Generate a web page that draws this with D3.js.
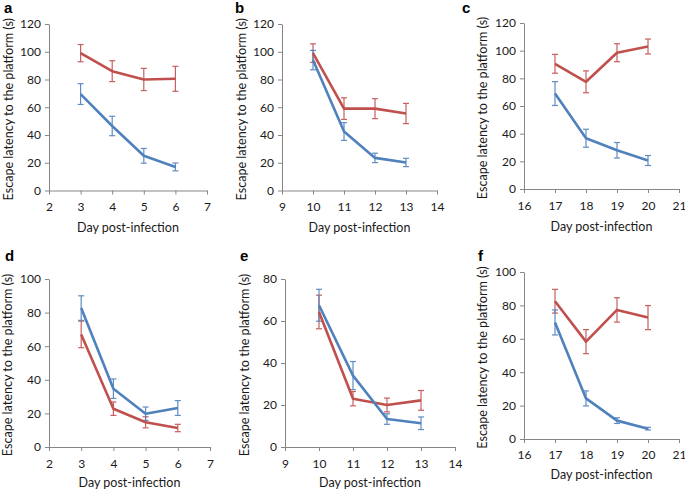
<!DOCTYPE html>
<html><head><meta charset="utf-8">
<script src="https://cdn.jsdelivr.net/npm/d3@7"></script>
<style>
html,body{margin:0;padding:0;background:#fff;}
svg text{font-family:Lato,"Open Sans",sans-serif;}
</style></head>
<body>
<svg id="c" width="685" height="492"></svg>
<script>
// ---- data ----
const daysA = [3, 4, 5, 6];
const redA = [99, 86, 80, 80.5];
const redErrA = [6.2, 7.5, 8, 9];
const blueA = [69.5, 46.5, 25, 17];
const blueErrA = [7.5, 7, 5.3, 2.8];

const daysB = [10, 11, 12, 13];
const redB = [99, 59, 59, 55.5];
const redErrB = [6.7, 7.8, 7.2, 7.3];
const blueB = [94, 42.5, 23.5, 20.2];
const blueErrB = [7, 6.4, 3.4, 3];

const daysC = [17, 18, 19, 20];
const redC = [90.5, 77.5, 98.5, 103];
const redErrC = [6.8, 7.9, 6.5, 5.4];
const blueC = [69, 36.7, 28, 20.6];
const blueErrC = [8.6, 6.5, 5.6, 3.6];

const daysD = [3, 4, 5, 6];
const redD = [67, 22.8, 14.7, 11.3];
const redErrD = [7.9, 4, 3.3, 2.2];
const blueD = [82.7, 34.7, 19.8, 23.2];
const blueErrD = [7.3, 5.8, 4, 4.4];

const daysE = [10, 11, 12, 13];
const redE = [64.3, 23, 20, 22.2];
const redErrE = [8, 3.4, 3.3, 4.7];
const blueE = [67.5, 34, 13.3, 11.3];
const blueErrE = [7.6, 6.7, 2.5, 3];

const daysF = [17, 18, 19, 20];
const redF = [82.5, 58.3, 77.3, 72.7];
const redErrF = [7.1, 7.2, 7.3, 7.2];
const blueF = [69.8, 24.3, 11, 6.2];
const blueErrF = [7.5, 4.5, 1.7, 0.8];

const xTicksA = [2, 3, 4, 5, 6, 7];
const xTicksB = [9, 10, 11, 12, 13, 14];
const xTicksC = [16, 17, 18, 19, 20, 21];
const yTicks120 = [0, 20, 40, 60, 80, 100, 120];
const yTicks100 = [0, 20, 40, 60, 80, 100];
const yTicks80 = [0, 20, 40, 60, 80];

const xTitle = "Day post-infection";
const yTitle = "Escape latency to the platform (s)";

// ---- layout ----
const RED = "#c0504d", BLUE = "#4f81bd", AXIS = "#868686", TXT = "#1a1a1a";
const panels = [
  {L:"a", days:daysA, red:redA, redE:redErrA, blue:blueA, blueE:blueErrA, xt:xTicksA, yt:yTicks120,
   x0:49, x1:207, y0:24, y1:190.5, lx:4, ly:13, ytx:9, xtlY:211, xtY:232},
  {L:"b", days:daysB, red:redB, redE:redErrB, blue:blueB, blueE:blueErrB, xt:xTicksB, yt:yTicks120,
   x0:282, x1:437, y0:24, y1:190.5, lx:235, ly:13, ytx:242, xtlY:211, xtY:232},
  {L:"c", days:daysC, red:redC, redE:redErrC, blue:blueC, blueE:blueErrC, xt:xTicksC, yt:yTicks120,
   x0:524, x1:679, y0:23, y1:189, lx:462, ly:13, ytx:483, xtlY:210, xtY:231},
  {L:"d", days:daysD, red:redD, redE:redErrD, blue:blueD, blueE:blueErrD, xt:xTicksA, yt:yTicks100,
   x0:49, x1:210, y0:279, y1:447, lx:5, ly:261, ytx:8, xtlY:468, xtY:487},
  {L:"e", days:daysE, red:redE, redE:redErrE, blue:blueE, blueE:blueErrE, xt:xTicksB, yt:yTicks80,
   x0:285, x1:455, y0:279, y1:447, lx:240, ly:261, ytx:245, xtlY:468, xtY:487},
  {L:"f", days:daysF, red:redF, redE:redErrF, blue:blueF, blueE:blueErrF, xt:xTicksC, yt:yTicks100,
   x0:524, x1:679, y0:272, y1:439, lx:478, ly:261, ytx:483, xtlY:459, xtY:479}
];

const svg = d3.select("#c");

panels.forEach(p => {
  const g = svg.append("g");
  const x = d3.scaleLinear().domain([p.xt[0], p.xt[p.xt.length-1]]).range([p.x0, p.x1]);
  const y = d3.scaleLinear().domain([p.yt[0], p.yt[p.yt.length-1]]).range([p.y1, p.y0]);

  const ya = g.append("g").attr("transform", `translate(${p.x0},0)`)
    .call(d3.axisLeft(y).tickValues(p.yt).tickFormat(d3.format("d")).tickSize(4).tickPadding(4).tickSizeOuter(0));
  const xa = g.append("g").attr("transform", `translate(0,${p.y1})`)
    .call(d3.axisBottom(x).tickValues(p.xt).tickFormat(d3.format("d")).tickSize(4).tickPadding(6).tickSizeOuter(0));
  [ya, xa].forEach(a => {
    a.select(".domain").attr("stroke", AXIS).attr("stroke-width", 1);
    a.selectAll(".tick line").attr("stroke", AXIS);
    a.selectAll(".tick text").attr("fill", TXT).style("font-size", "12px")
      .style("font-family", "Lato, sans-serif");
  });
  xa.selectAll(".tick text").attr("dy", null).attr("y", p.xtlY - p.y1);

  g.append("text").attr("x", (p.x0 + p.x1) / 2).attr("y", p.xtY)
    .attr("text-anchor", "middle").attr("fill", TXT).style("font-size", "12.5px").text(xTitle);
  g.append("text").attr("transform", `translate(${p.ytx + 4},${(p.y0 + p.y1) / 2 + 2}) rotate(-90)`)
    .attr("text-anchor", "middle").attr("fill", TXT).style("font-size", "12.6px").text(yTitle);
  g.append("text").attr("x", p.lx).attr("y", p.ly).attr("fill", "#000")
    .style("font-family", "Liberation Sans, Arial, sans-serif").style("font-weight", "bold")
    .style("font-size", "15px").text(p.L);

  const line = d3.line().x((d, i) => x(p.days[i])).y(d => y(d));
  const series = [
    {v: p.red, e: p.redE, c: RED},
    {v: p.blue, e: p.blueE, c: BLUE}
  ];
  series.forEach(s => {
    const eg = g.append("g").attr("stroke", s.c).attr("stroke-width", 1.2).attr("opacity", 0.9);
    s.v.forEach((v, i) => {
      const cx = x(p.days[i]);
      const top = y(v + s.e[i]), bot = y(v - s.e[i]);
      eg.append("line").attr("x1", cx).attr("x2", cx).attr("y1", top).attr("y2", bot);
      eg.append("line").attr("x1", cx - 3).attr("x2", cx + 3).attr("y1", top).attr("y2", top);
      eg.append("line").attr("x1", cx - 3).attr("x2", cx + 3).attr("y1", bot).attr("y2", bot);
    });
  });
  series.forEach(s => {
    g.append("path").datum(s.v).attr("d", line).attr("fill", "none")
      .attr("stroke", s.c).attr("stroke-width", 2.6).attr("stroke-linejoin", "round");
  });
});
</script>
</body></html>
